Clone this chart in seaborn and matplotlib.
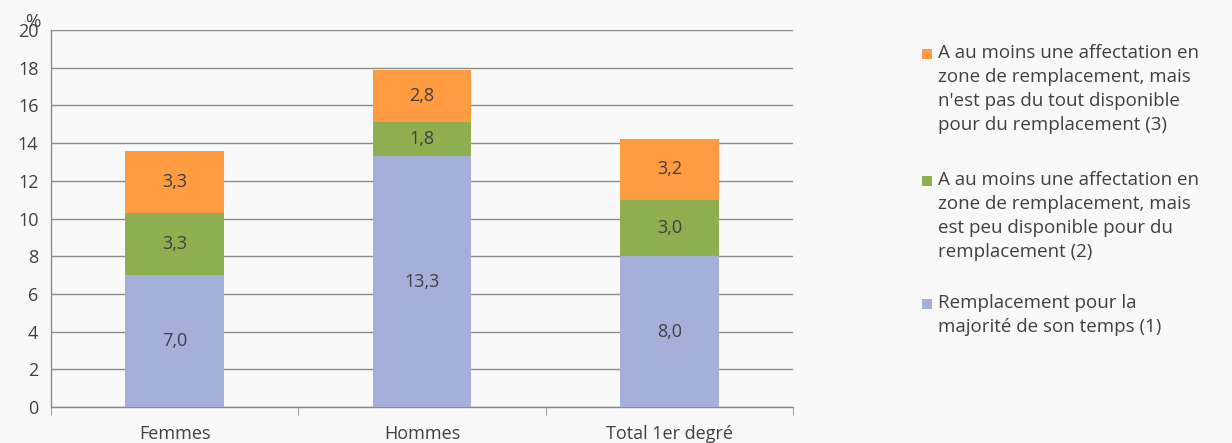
import numpy as np
import pandas as pd
import matplotlib.pyplot as plt
import seaborn as sns
from matplotlib.patches import Rectangle

sns.set_style("white")
plt.rcParams["font.family"] = ["Open Sans", "DejaVu Sans"]

categories = ["Femmes", "Hommes", "Total 1er degré"]
remplacement = [7.0, 13.3, 8.0]
peu_dispo = [3.3, 1.8, 3.0]
pas_dispo = [3.3, 2.8, 3.2]

labels = [
    "A au moins une affectation en\nzone de remplacement, mais\nn'est pas du tout disponible\npour du remplacement (3)",
    "A au moins une affectation en\nzone de remplacement, mais\nest peu disponible pour du\nremplacement (2)",
    "Remplacement pour la\nmajorité de son temps (1)",
]
colors = ["#ff9b41", "#8fae4f", "#a6aeda"]

df = pd.DataFrame({"cat": categories, "r": remplacement, "p": peu_dispo, "n": pas_dispo})
df["t2"] = df["r"] + df["p"]
df["t3"] = df["t2"] + df["n"]

bg = "#f9f9f9"
txt = "#404040"
W, H = 1232, 443
fig = plt.figure(figsize=(12.32, 4.43), dpi=100, facecolor=bg)
ax = fig.add_axes([51 / W, 1 - 407 / H, 742 / W, 377 / H])
ax.set_facecolor(bg)

# stacked bars: cumulative totals drawn back to front
for col, c in [("t3", colors[0]), ("t2", colors[1]), ("r", colors[2])]:
    sns.barplot(data=df, x="cat", y=col, color=c, width=0.4, ax=ax, zorder=3,
                saturation=1, linewidth=0, edgecolor="none")

for col, base in [("r", None), ("p", "r"), ("n", "t2")]:
    for i, v in enumerate(df[col]):
        b = 0 if base is None else df[base][i]
        ax.text(i, b + v / 2, f"{v:.1f}".replace(".", ","), ha="center", va="center",
                fontsize=13, color=txt, zorder=4)

ax.set_xlim(-0.5, 2.5)
ax.set_ylim(0, 20)
ax.set_yticks(np.arange(0, 21, 2))
ax.yaxis.grid(True, color="#8c8c8c", linewidth=1, zorder=0)
ax.set_axisbelow(True)
ax.set_xlabel("")
ax.set_ylabel("")
for s in ["top", "right"]:
    ax.spines[s].set_visible(False)
for s in ["left", "bottom"]:
    ax.spines[s].set_color("#8c8c8c")
    ax.spines[s].set_linewidth(1)

ax.set_xticks([0, 1, 2])
ax.set_xticklabels(categories)
ax.set_xticks([-0.5, 0.5, 1.5, 2.5], minor=True)
ax.tick_params(axis="x", which="major", length=0, pad=13, labelsize=13, labelcolor=txt)
ax.tick_params(axis="x", which="minor", length=6, color="#8c8c8c", direction="out")
ax.tick_params(axis="y", length=6, color="#8c8c8c", direction="out", pad=3,
               labelsize=13, labelcolor=txt)
ax.tick_params(axis="x", which="both", bottom=True)

fig.text(33 / W, 1 - 22 / H, "%", fontsize=13.5, color=txt, ha="center", va="center")

# legend drawn by hand so the swatch sits on the first line
first_lines = [54, 181, 304]
for lab, c, y in zip(labels, colors, first_lines):
    fig.patches.append(Rectangle((922 / W, 1 - (y + 5) / H), 10 / W, 10 / H,
                                 transform=fig.transFigure, facecolor=c, edgecolor="none"))
    fig.text(938 / W, 1 - (y - 10) / H, lab, fontsize=13.5, color=txt,
             ha="left", va="top", linespacing=1.42)

fig.savefig("out.png", dpi=100, facecolor=bg)
